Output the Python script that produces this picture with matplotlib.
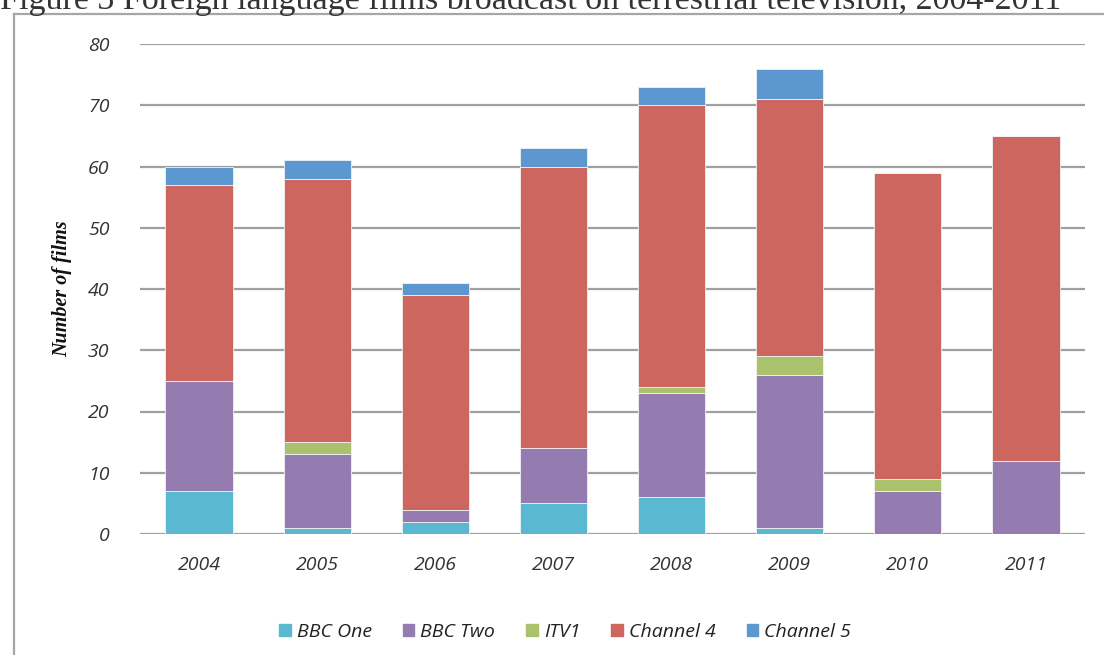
import numpy as np
import matplotlib.pyplot as plt
from matplotlib.patches import Rectangle
from matplotlib.lines import Line2D

years = ["2004", "2005", "2006", "2007", "2008", "2009", "2010", "2011"]
bbc_one = [7, 1, 2, 5, 6, 1, 0, 0]
bbc_two = [18, 12, 2, 9, 17, 25, 7, 12]
itv1 = [0, 2, 0, 0, 1, 3, 2, 0]
channel_4 = [32, 43, 35, 46, 46, 42, 50, 53]
channel_5 = [3, 3, 2, 3, 3, 5, 0, 0]

series_names = ["BBC One", "BBC Two", "ITV1", "Channel 4", "Channel 5"]
series = [bbc_one, bbc_two, itv1, channel_4, channel_5]
colors = ["#5BB8D1", "#947BB0", "#A9C26B", "#CD665E", "#5C97CF"]

W, H = 1104, 655
fig = plt.figure(figsize=(W / 100, H / 100), dpi=100)
fig.patch.set_facecolor("white")

# frame lines (the chart box is cropped at right and bottom)
fig.add_artist(Line2D([14 / W, 14 / W], [0, 1 - 14 / H], transform=fig.transFigure,
                      color="#A6A6A6", lw=1.6))
fig.add_artist(Line2D([14 / W, 1], [1 - 14 / H, 1 - 14 / H], transform=fig.transFigure,
                      color="#A6A6A6", lw=1.6))

# title, cut off at top like the original
fig.text(0.0, 1 - 9 / H, "Figure 3 Foreign language films broadcast on terrestrial television, 2004-2011",
         fontsize=24.5, family="Liberation Serif", va="baseline", ha="left", color="#333333")

ax = fig.add_axes([140 / W, 1 - 534 / H, 945 / W, (534 - 44) / H])
x = np.arange(len(years))
bottom = np.zeros(len(years))
for name, vals, c in zip(series_names, series, colors):
    vals = np.array(vals, dtype=float)
    ax.bar(x, vals, 0.57, bottom=bottom, color=c, edgecolor="#F2F2F2", linewidth=0.6,
           label=name, zorder=3)
    bottom += vals

ax.set_xlim(-0.5, len(years) - 0.5)
ax.set_ylim(0, 80)
ax.set_yticks(range(0, 81, 10))
ax.set_xticks(x)
ax.set_xticklabels(years)
ax.grid(axis="y", color="#A0A0A0", lw=1.6, zorder=0)
ax.set_axisbelow(True)
for s in ax.spines.values():
    s.set_visible(False)
ax.tick_params(axis="both", length=0, labelsize=14, colors="#333333")
ax.tick_params(axis="y", pad=22)
ax.tick_params(axis="x", pad=16)
for lab in ax.get_xticklabels() + ax.get_yticklabels():
    lab.set_fontstyle("italic")
    lab.set_family("Open Sans")

ax.set_ylabel("Number of films", fontsize=14.5, fontweight="bold", fontstyle="italic",
              family="Liberation Serif", color="#111111", labelpad=11)

handles = [Rectangle((0, 0), 1, 1, color=c) for c in colors]
leg = fig.legend(handles, series_names, loc="center", bbox_to_anchor=(565 / W, 1 - 632 / H),
                 ncol=5, frameon=False, handlelength=0.6, handleheight=0.6, handletextpad=0.3,
                 columnspacing=1.6, prop={"family": "Open Sans", "style": "italic", "size": 14})
for t in leg.get_texts():
    t.set_color("#222222")

fig.savefig("out.png", dpi=100)
